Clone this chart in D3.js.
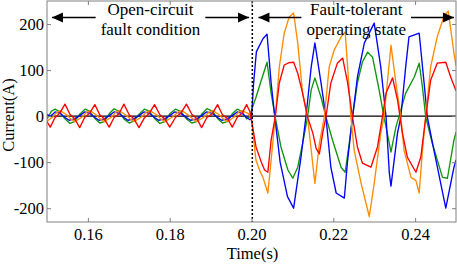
<!DOCTYPE html>
<html>
<head>
<meta charset="utf-8">
<script src="https://cdn.jsdelivr.net/npm/d3@7"></script>
<style>
  body { margin: 0; background: #fff; }
  svg { display: block; }
  text { font-family: "Liberation Serif", "Times New Roman", serif; fill: #000; }
</style>
</head>
<body>
<div id="chart"></div>
<script>
// phase currents [time (s), current (A)]
const redPts = [
  [0.1500,-12],[0.1508,-24],[0.1519,-4],[0.1531,6],[0.1544,26],[0.1556,4],[0.1567,-5],[0.1580,-25],
  [0.1592,-3],[0.1604,6],[0.1617,25],[0.1629,3],[0.1640,-6],[0.1652,-24],[0.1664,-3],[0.1676,5],
  [0.1688,26],[0.1701,3],[0.1712,-5],[0.1725,-25],[0.1738,-4],[0.1750,6],[0.1763,25],[0.1776,3],
  [0.1788,-6],[0.1800,-24],[0.1814,-3],[0.1827,6],[0.1841,26],[0.1854,4],[0.1866,-5],[0.1878,-25],
  [0.1891,-3],[0.1904,5],[0.1917,25],[0.1929,3],[0.1941,-5],[0.1953,-24],[0.1965,-3],[0.1977,6],
  [0.1988,25],[0.1996,10],
  [0.2000,-9],[0.2011,-67],[0.2024,-100],[0.2032,-117],[0.2040,-122],[0.2048,-52],[0.2058,-2],
  [0.2068,72],[0.2080,111],[0.2092,116],[0.2103,117],[0.2113,93],[0.2125,50],[0.2137,-2],
  [0.2150,-37],[0.2158,-70],[0.2166,-82],[0.2174,-37],[0.2182,-2],[0.2194,72],[0.2210,115],
  [0.2223,126],[0.2235,72],[0.2247,-2],[0.2259,-67],[0.2271,-102],[0.2292,-111],[0.2308,-67],
  [0.2320,-2],[0.2329,50],[0.2345,83],[0.2357,35],[0.2369,-37],[0.2381,-89],[0.2402,-122],
  [0.2414,-89],[0.2426,-2],[0.2438,78],[0.2454,115],[0.2475,117],[0.2487,85],[0.2500,55]
];
const greenPts = [
  [0.1500,-6],[0.1511,11],[0.1520,15],[0.1530,10],[0.1544,-6],[0.1556,-16],[0.1567,-12],[0.1580,4],
  [0.1593,15],[0.1604,11],[0.1617,-5],[0.1629,-15],[0.1640,-12],[0.1652,5],[0.1664,16],[0.1676,10],
  [0.1688,-6],[0.1701,-15],[0.1712,-11],[0.1725,4],[0.1738,15],[0.1750,11],[0.1763,-5],[0.1776,-16],
  [0.1788,-12],[0.1800,5],[0.1814,15],[0.1827,10],[0.1841,-6],[0.1854,-15],[0.1866,-12],[0.1878,4],
  [0.1891,16],[0.1904,11],[0.1917,-5],[0.1929,-15],[0.1941,-12],[0.1953,5],[0.1965,15],[0.1977,10],
  [0.1988,-6],[0.1995,-2],
  [0.2000,13],[0.2011,41],[0.2024,78],[0.2038,117],[0.2048,50],[0.2058,-2],[0.2072,-67],
  [0.2089,-117],[0.2101,-135],[0.2113,-111],[0.2125,-59],[0.2137,-2],[0.2146,57],[0.2155,83],
  [0.2170,41],[0.2182,-2],[0.2198,-52],[0.2219,-111],[0.2229,-122],[0.2239,-59],[0.2247,-2],
  [0.2259,72],[0.2271,117],[0.2284,139],[0.2296,128],[0.2312,57],[0.2324,-2],[0.2337,-59],
  [0.2341,-78],[0.2353,-24],[0.2365,13],[0.2377,50],[0.2398,85],[0.2410,115],[0.2418,63],
  [0.2426,-2],[0.2442,-59],[0.2467,-133],[0.2479,-135],[0.2495,-52],[0.2500,-35]
];
const bluePts = [
  [0.1500,4],[0.1508,-1],[0.1520,9],[0.1532,6],[0.1544,-3],[0.1554,-9],[0.1567,-6],[0.1580,1],
  [0.1592,9],[0.1604,6],[0.1617,-3],[0.1627,-9],[0.1640,-6],[0.1652,1],[0.1664,9],[0.1676,6],
  [0.1688,-3],[0.1698,-9],[0.1712,-6],[0.1725,1],[0.1737,9],[0.1750,6],[0.1763,-3],[0.1773,-9],
  [0.1788,-6],[0.1800,1],[0.1812,9],[0.1827,6],[0.1841,-3],[0.1851,-9],[0.1866,-6],[0.1878,1],
  [0.1890,9],[0.1904,6],[0.1917,-3],[0.1927,-9],[0.1941,-6],[0.1953,1],[0.1965,9],[0.1977,6],
  [0.1988,-3],[0.1996,-8],
  [0.2000,-2],[0.2005,70],[0.2012,140],[0.2028,168],[0.2038,178],[0.2048,72],[0.2056,6],
  [0.2070,-100],[0.2088,-175],[0.2103,-200],[0.2121,-89],[0.2133,-2],[0.2146,107],[0.2155,159],
  [0.2170,72],[0.2182,-2],[0.2194,-111],[0.2207,-167],[0.2227,-178],[0.2235,-96],[0.2247,-2],
  [0.2259,85],[0.2276,159],[0.2300,202],[0.2316,107],[0.2329,-2],[0.2337,-124],[0.2341,-152],
  [0.2357,-37],[0.2365,-2],[0.2377,107],[0.2385,172],[0.2410,180],[0.2422,72],[0.2430,-2],
  [0.2446,-74],[0.2475,-200],[0.2495,-111],[0.2500,-95]
];
const orangePts = [
  [0.1500,-11],[0.1514,-2],[0.1524,8],[0.1532,12],[0.1548,3],[0.1558,-6],[0.1568,-12],[0.1586,-2],
  [0.1596,8],[0.1605,12],[0.1620,3],[0.1630,-6],[0.1640,-12],[0.1658,-2],[0.1668,8],[0.1676,12],
  [0.1692,3],[0.1703,-6],[0.1713,-12],[0.1731,-2],[0.1742,8],[0.1751,12],[0.1768,3],[0.1778,-6],
  [0.1788,-12],[0.1807,-2],[0.1819,8],[0.1829,12],[0.1845,3],[0.1856,-6],[0.1866,-12],[0.1884,-2],
  [0.1895,8],[0.1905,12],[0.1921,3],[0.1931,-6],[0.1941,-12],[0.1958,-2],[0.1968,8],[0.1976,12],
  [0.1992,6],
  [0.2000,-5],[0.2004,-40],[0.2011,-96],[0.2020,-118],[0.2028,-133],[0.2040,-167],[0.2048,-96],
  [0.2058,-2],[0.2068,107],[0.2080,180],[0.2092,215],[0.2103,224],[0.2113,159],[0.2125,50],
  [0.2137,-2],[0.2146,-74],[0.2155,-146],[0.2166,-59],[0.2178,-2],[0.2190,107],[0.2202,143],
  [0.2219,172],[0.2229,183],[0.2235,107],[0.2243,-2],[0.2251,-74],[0.2268,-146],[0.2288,-218],
  [0.2300,-146],[0.2316,-37],[0.2324,-2],[0.2332,72],[0.2341,154],[0.2353,72],[0.2365,-2],
  [0.2373,-74],[0.2390,-133],[0.2402,-140],[0.2410,-167],[0.2418,-74],[0.2426,-2],[0.2438,107],
  [0.2454,172],[0.2471,218],[0.2481,228],[0.2495,137],[0.2500,110]
];

const xTicks = [0.16, 0.18, 0.20, 0.22, 0.24];
const yTicks = [-200, -100, 0, 100, 200];
const faultTime = 0.2002;
const leftNote = ["Open-circuit", "fault condition"];
const rightNote = ["Fault-tolerant", "operating state"];

const series = [
  {name: "green", pts: greenPts, color: "#0f960f"},
  {name: "blue", pts: bluePts, color: "#0000ff"},
  {name: "orange", pts: orangePts, color: "#ff8c00"},
  {name: "red", pts: redPts, color: "#ff0000"}
];

const width = 457, height = 266;
const plot = {left: 47, right: 456, top: 1, bottom: 222};
const serif = "'Liberation Serif', 'Times New Roman', serif";

const svg = d3.select("#chart").append("svg")
  .attr("width", width)
  .attr("height", height);

const x = d3.scaleLinear().domain([0.15, 0.25]).range([plot.left, plot.right]);
const y = d3.scaleLinear().domain([-230, 250]).range([plot.bottom, plot.top]);

svg.append("clipPath").attr("id", "clip")
  .append("rect")
  .attr("x", plot.left).attr("y", plot.top)
  .attr("width", plot.right - plot.left).attr("height", plot.bottom - plot.top);

// zero line
svg.append("line")
  .attr("x1", plot.left).attr("x2", plot.right)
  .attr("y1", y(0)).attr("y2", y(0))
  .attr("stroke", "#000").attr("stroke-width", 1.3);

// currents
const line = d3.line().x(d => x(d[0])).y(d => y(d[1]));
svg.append("g").attr("clip-path", "url(#clip)")
  .selectAll("path")
  .data(series)
  .enter().append("path")
  .attr("d", d => line(d.pts))
  .attr("fill", "none")
  .attr("stroke", d => d.color)
  .attr("stroke-width", 1.35)
  .attr("stroke-linejoin", "round");

// fault instant
svg.append("line")
  .attr("x1", x(faultTime)).attr("x2", x(faultTime))
  .attr("y1", plot.top).attr("y2", plot.bottom)
  .attr("stroke", "#000").attr("stroke-width", 1.5)
  .attr("stroke-dasharray", "2,2");

// axes: ticks point inward, mirrored on top and right
const axisColor = "#808080";
function styleAxis(g) {
  g.attr("font-family", serif).attr("font-size", 16.5);
  g.select(".domain").remove();
  g.selectAll(".tick line").attr("stroke", axisColor);
  g.selectAll(".tick text").attr("fill", "#000");
}

svg.append("g")
  .attr("transform", "translate(0," + plot.bottom + ")")
  .call(d3.axisBottom(x).tickValues(xTicks).tickSizeInner(-4).tickSizeOuter(0)
    .tickPadding(6).tickFormat(d3.format(".2f")))
  .call(styleAxis);

svg.append("g")
  .attr("transform", "translate(0," + plot.top + ")")
  .call(d3.axisTop(x).tickValues(xTicks).tickSizeInner(-4).tickSizeOuter(0).tickFormat(""))
  .call(styleAxis);

svg.append("g")
  .attr("transform", "translate(" + plot.left + ",0)")
  .call(d3.axisLeft(y).tickValues(yTicks).tickSizeInner(-4).tickSizeOuter(0)
    .tickPadding(3).tickFormat(d => String(d)))
  .call(styleAxis);

svg.append("g")
  .attr("transform", "translate(" + plot.right + ",0)")
  .call(d3.axisRight(y).tickValues(yTicks).tickSizeInner(-4).tickSizeOuter(0).tickFormat(""))
  .call(styleAxis);

svg.append("rect")
  .attr("x", plot.left).attr("y", plot.top)
  .attr("width", plot.right - plot.left).attr("height", plot.bottom - plot.top)
  .attr("fill", "none").attr("stroke", axisColor).attr("stroke-width", 1);

// axis titles
svg.append("text")
  .attr("x", (plot.left + plot.right) / 2 + 1).attr("y", 259)
  .attr("text-anchor", "middle")
  .attr("font-family", serif)
  .style("font-size", "16.5px")
  .text("Time(s)");

svg.append("text")
  .attr("transform", "translate(14,115)rotate(-90)")
  .attr("text-anchor", "middle")
  .attr("font-family", serif)
  .style("font-size", "16.5px")
  .text("Current(A)");

// annotations with double arrows
const arrowY = 17.5;
function note(lines, t0, t1) {
  const g = svg.append("g");
  const x0 = x(t0), x1 = x(t1), cx = (x0 + x1) / 2;
  const texts = g.selectAll("text").data(lines).enter().append("text")
    .attr("x", cx).attr("y", (d, i) => 14.5 + i * 20.5)
    .attr("text-anchor", "middle")
    .attr("font-family", serif)
    .style("font-size", "17px")
    .text(d => d);
  let w = 0;
  texts.each(function() { w = Math.max(w, this.getComputedTextLength()); });
  const gap = w / 2 + 5;
  g.append("line").attr("x1", x0).attr("x2", cx - gap).attr("y1", arrowY).attr("y2", arrowY)
    .attr("stroke", "#000").attr("stroke-width", 1.3);
  g.append("line").attr("x1", cx + gap).attr("x2", x1).attr("y1", arrowY).attr("y2", arrowY)
    .attr("stroke", "#000").attr("stroke-width", 1.3);
  const head = 11, half = 5;
  g.append("path")
    .attr("d", `M${x0},${arrowY}L${x0 + head},${arrowY - half}L${x0 + head},${arrowY + half}Z`)
    .attr("fill", "#000");
  g.append("path")
    .attr("d", `M${x1},${arrowY}L${x1 - head},${arrowY - half}L${x1 - head},${arrowY + half}Z`)
    .attr("fill", "#000");
}
note(leftNote, 0.1512, 0.1994);
note(rightNote, 0.2017, 0.2495);
</script>
</body>
</html>
